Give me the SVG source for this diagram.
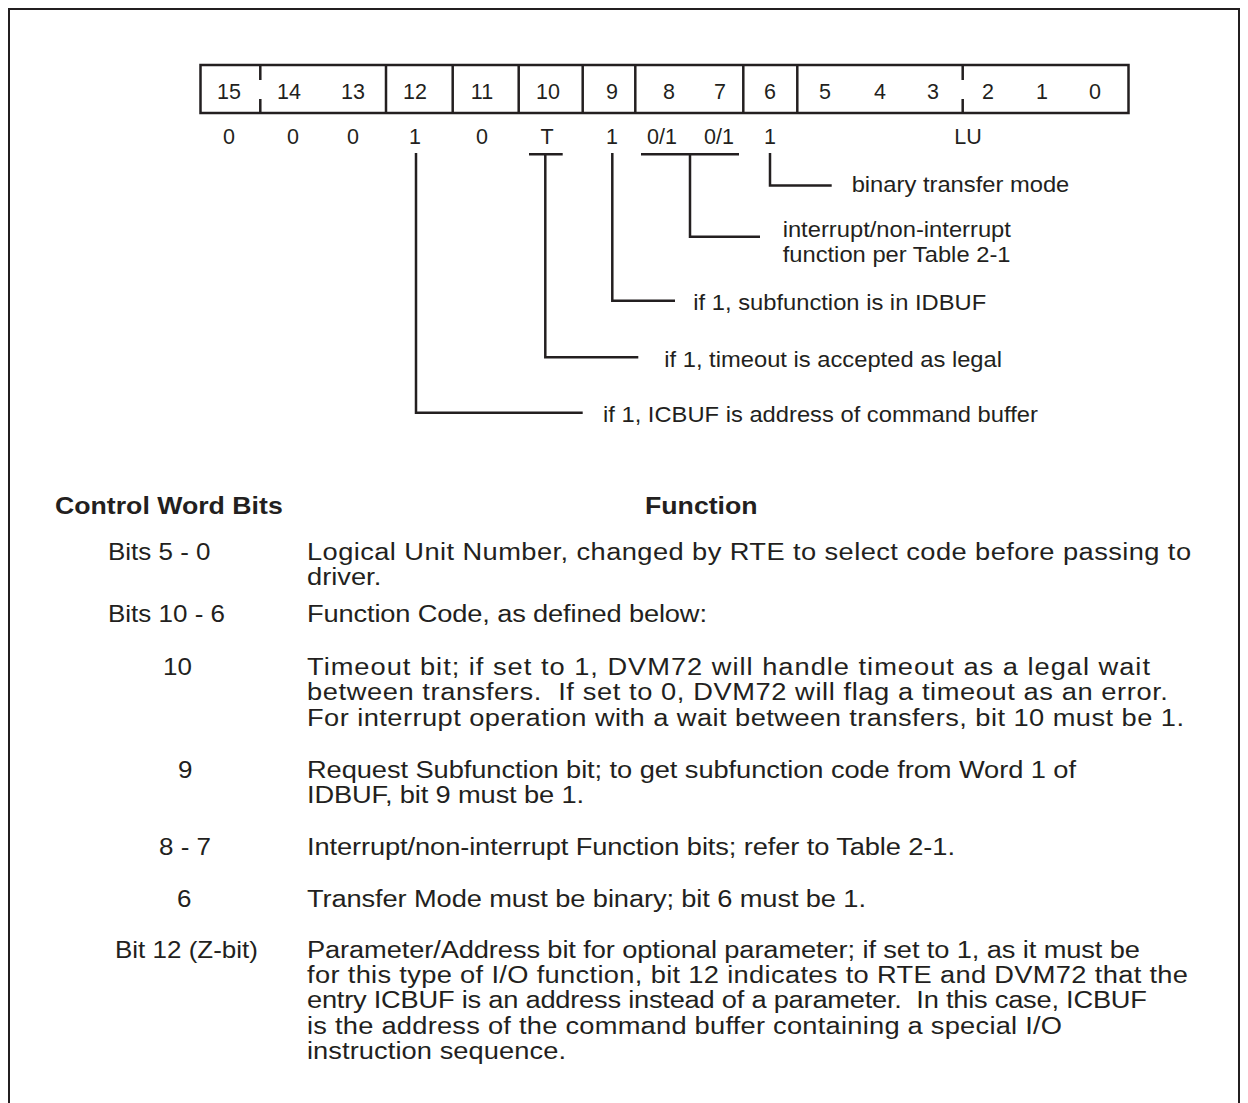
<svg xmlns="http://www.w3.org/2000/svg" width="1248" height="1103" viewBox="0 0 1248 1103">
<style>
.frame{fill:none;stroke:#231f20;stroke-width:2}
.ln{fill:none;stroke:#231f20;stroke-width:2.5}
.bit{font-family:"Liberation Sans",Arial,sans-serif;font-size:21.5px;fill:#231f20;text-anchor:middle}
.lbl{font-family:"Liberation Sans",Arial,sans-serif;font-size:21.2px;fill:#231f20}
.hd{font-family:"Liberation Sans",Arial,sans-serif;font-size:23.2px;font-weight:bold;fill:#231f20}
.bd{font-family:"Liberation Sans",Arial,sans-serif;font-size:23.5px;fill:#231f20}
</style>
<rect width="1248" height="1103" fill="#ffffff"/>
<path class="frame" d="M9 1110 V9 H1239 V1110"/>
<g id="register">
<rect class="ln" x="200.5" y="65" width="928" height="48"/>
<path class="ln" d="M386 65V113M452.7 65V113M518.7 65V113M582.7 65V113M635.3 65V113M743.3 65V113M797.3 65V113"/>
<path class="ln" d="M260.3 65V80M260.3 99V113M962.7 65V80M962.7 99V113"/>
<text class="bit" y="99"><tspan x="229">15</tspan><tspan x="289">14</tspan><tspan x="353">13</tspan><tspan x="415">12</tspan><tspan x="482">11</tspan><tspan x="548">10</tspan><tspan x="612">9</tspan><tspan x="669">8</tspan><tspan x="720">7</tspan><tspan x="770">6</tspan><tspan x="825">5</tspan><tspan x="880">4</tspan><tspan x="933">3</tspan><tspan x="988">2</tspan><tspan x="1042">1</tspan><tspan x="1095">0</tspan></text>
<text class="bit" y="144"><tspan x="229">0</tspan><tspan x="293">0</tspan><tspan x="353">0</tspan><tspan x="415">1</tspan><tspan x="482">0</tspan><tspan x="547">T</tspan><tspan x="612">1</tspan><tspan x="662">0/1</tspan><tspan x="719">0/1</tspan><tspan x="770">1</tspan><tspan x="968">LU</tspan></text>
</g>
<g id="connectors">
<path class="ln" d="M416 153V412.7H582.7"/>
<path class="ln" d="M529 154.3H562.7M545.3 154.3V357.3H638.3"/>
<path class="ln" d="M612.3 153V300.7H675"/>
<path class="ln" d="M641 154.3H739M690 154.3V236.7H760"/>
<path class="ln" d="M770 153V185.5H831.7"/>
</g>
<g transform="scale(1.12 1)">
<g id="label-bit6"><text class="lbl" x="760.4" y="192.3">binary transfer mode</text></g>
<g id="label-bits87"><text class="lbl" x="698.8" y="236.7">interrupt/non-interrupt</text><text class="lbl" x="698.8" y="262">function per Table 2-1</text></g>
<g id="label-bit9"><text class="lbl" x="619" y="310">if 1, subfunction is in IDBUF</text></g>
<g id="label-bit10"><text class="lbl" x="593.1" y="366.7">if 1, timeout is accepted as legal</text></g>
<g id="label-bit12"><text class="lbl" x="538.4" y="421.7">if 1, ICBUF is address of command buffer</text></g>
</g>
<g id="table-header" transform="scale(1.15 1)">
<text class="hd" x="47.83" y="514">Control Word Bits</text>
<text class="hd" x="560.87" y="514">Function</text>
</g>
<g id="table-bits" transform="scale(1.106 1)">
<text class="bd" x="97.65" y="560">Bits 5 - 0</text>
<text class="bd" x="97.65" y="622">Bits 10 - 6</text>
<text class="bd" x="147.38" y="675">10</text>
<text class="bd" x="160.94" y="778">9</text>
<text class="bd" x="143.76" y="855">8 - 7</text>
<text class="bd" x="160.04" y="907">6</text>
<text class="bd" x="103.98" y="958">Bit 12 (Z-bit)</text>
</g>
<g id="table-functions" transform="scale(1.16 1)">
<text class="bd" x="264.66" y="560" textLength="762.1">Logical Unit Number, changed by RTE to select code before passing to</text>
<text class="bd" x="264.66" y="585">driver.</text>
<text class="bd" x="264.66" y="622" textLength="344.8">Function Code, as defined below:</text>
<text class="bd" x="264.66" y="675" textLength="726.7">Timeout bit; if set to 1, DVM72 will handle timeout as a legal wait</text>
<text class="bd" x="264.66" y="700" textLength="742.2" xml:space="preserve">between transfers.  If set to 0, DVM72 will flag a timeout as an error.</text>
<text class="bd" x="264.66" y="726" textLength="756">For interrupt operation with a wait between transfers, bit 10 must be 1.</text>
<text class="bd" x="264.66" y="778" textLength="662.9">Request Subfunction bit; to get subfunction code from Word 1 of</text>
<text class="bd" x="264.66" y="803" textLength="238.8">IDBUF, bit 9 must be 1.</text>
<text class="bd" x="264.66" y="855" textLength="558.6">Interrupt/non-interrupt Function bits; refer to Table 2-1.</text>
<text class="bd" x="264.66" y="907" textLength="481.9">Transfer Mode must be binary; bit 6 must be 1.</text>
<text class="bd" x="264.66" y="958" textLength="718.1">Parameter/Address bit for optional parameter; if set to 1, as it must be</text>
<text class="bd" x="264.66" y="983" textLength="759.5">for this type of I/O function, bit 12 indicates to RTE and DVM72 that the</text>
<text class="bd" x="264.66" y="1008" textLength="724.1" xml:space="preserve">entry ICBUF is an address instead of a parameter.  In this case, ICBUF</text>
<text class="bd" x="264.66" y="1034" textLength="650.9">is the address of the command buffer containing a special I/O</text>
<text class="bd" x="264.66" y="1059" textLength="223.3">instruction sequence.</text>
</g>
</svg>
